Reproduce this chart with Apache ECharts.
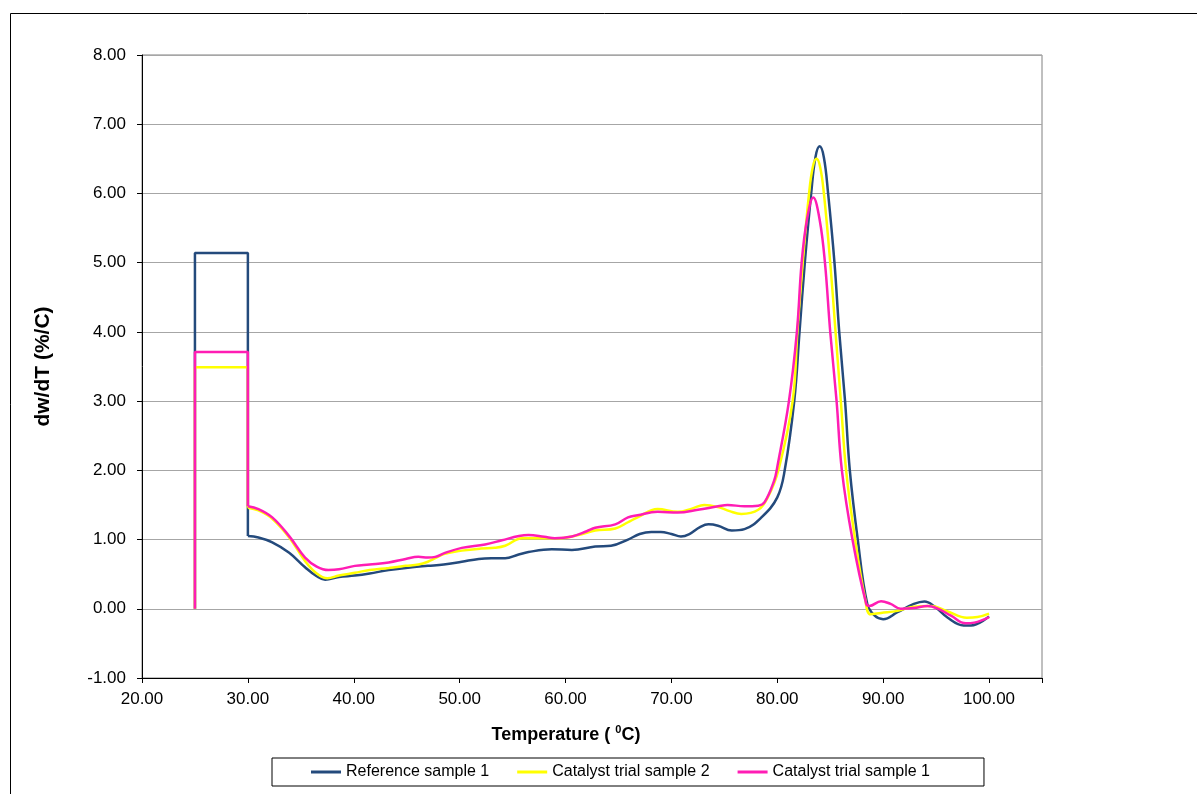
<!DOCTYPE html>
<html>
<head>
<meta charset="utf-8">
<title>dw/dT curves</title>
<script src="https://cdn.jsdelivr.net/npm/echarts@6/dist/echarts.min.js"></script>
<style>
  html, body { margin: 0; padding: 0; background: #ffffff; }
  #chart { width: 1197px; height: 794px; }
</style>
</head>
<body>
<div id="chart"></div>
<script>
// Series names (legend order)
const seriesNames = ['Reference sample 1', 'Catalyst trial sample 2', 'Catalyst trial sample 1'];

// Isothermal hold segment at the start of each run (25–30 °C)
const stepTemps = [25, 25, 30, 30];
const refStep   = [0, 5.14, 5.14, 1.05];
const cat2Step  = [0, 3.49, 3.49, 1.46];
const cat1Step  = [0, 3.71, 3.71, 1.48];

// Reference sample 1: derivative curve from 30 °C
const refTemps = [30.0, 31.0, 32.3, 33.9, 35.4, 36.5, 37.3, 38.6, 40.1, 41.5, 43.3, 45.5, 47.0, 48.5, 50.2, 51.8, 53.0, 54.3, 55.5, 56.5, 58.7, 60.6, 62.8, 64.3, 65.9, 67.0, 68.1, 69.0, 70.0, 70.9, 71.7, 72.7, 73.5, 74.4, 75.7, 76.9, 78.5, 80.0, 80.7, 81.6, 82.1, 82.6, 83.2, 83.6, 84.0, 84.4, 84.8, 85.4, 85.85, 86.4, 86.85, 87.6, 88.5, 89.2, 90.0, 91.35, 92.9, 93.9, 94.8, 96.1, 97.6, 98.3, 100.0];
const refRate  = [1.05, 1.03, 0.96, 0.81, 0.60, 0.47, 0.42, 0.46, 0.48, 0.51, 0.56, 0.60, 0.62, 0.64, 0.68, 0.72, 0.73, 0.73, 0.78, 0.82, 0.86, 0.85, 0.90, 0.91, 1.00, 1.08, 1.11, 1.11, 1.08, 1.045, 1.08, 1.18, 1.22, 1.20, 1.13, 1.15, 1.32, 1.61, 2.00, 3.00, 4.00, 5.00, 6.00, 6.52, 6.68, 6.52, 6.00, 5.00, 4.00, 3.00, 2.00, 1.00, 0.07, -0.10, -0.15, -0.05, 0.07, 0.105, 0.04, -0.13, -0.24, -0.24, -0.11];

// Catalyst trial sample 2
const cat2Temps = [30.0, 31.0, 32.3, 33.9, 35.4, 36.5, 37.5, 38.6, 40.1, 41.5, 43.3, 44.9, 46.1, 47.0, 47.7, 48.5, 50.2, 52.0, 53.3, 54.3, 55.9, 57.4, 59.6, 61.2, 62.8, 64.7, 65.9, 66.8, 68.7, 70.6, 72.0, 73.1, 74.4, 75.5, 76.6, 78.2, 79.1, 80.1, 81.45, 81.9, 82.4, 83.0, 83.35, 83.7, 84.05, 84.4, 85.0, 85.5, 86.0, 86.5, 87.35, 88.3, 88.8, 89.8, 91.35, 92.9, 94.5, 96.1, 97.9, 98.9, 100.0];
const cat2Rate  = [1.46, 1.42, 1.30, 1.03, 0.69, 0.51, 0.44, 0.48, 0.52, 0.56, 0.59, 0.62, 0.64, 0.68, 0.73, 0.79, 0.84, 0.87, 0.88, 0.91, 1.02, 1.02, 1.02, 1.065, 1.13, 1.16, 1.25, 1.32, 1.44, 1.40, 1.45, 1.50, 1.47, 1.41, 1.37, 1.43, 1.61, 2.00, 3.00, 4.00, 5.00, 6.00, 6.38, 6.50, 6.38, 6.00, 5.00, 4.00, 3.00, 2.00, 1.00, 0.14, -0.08, -0.06, -0.03, 0.03, 0.04, -0.04, -0.13, -0.12, -0.07];

// Catalyst trial sample 1
const cat1Temps = [30.0, 31.0, 32.3, 33.9, 35.4, 36.5, 37.6, 38.6, 40.1, 41.5, 43.3, 44.9, 46.1, 47.0, 47.7, 48.5, 50.2, 52.4, 54.0, 55.6, 56.5, 58.0, 59.0, 60.6, 62.0, 62.8, 64.7, 65.9, 66.8, 68.7, 70.6, 72.5, 74.4, 75.3, 76.9, 78.2, 78.8, 79.7, 80.0, 81.1, 81.85, 82.3, 82.8, 83.4, 84.0, 84.5, 85.0, 85.6, 86.1, 87.1, 88.4, 88.7, 89.8, 90.7, 91.65, 92.9, 94.2, 95.1, 96.4, 97.8, 98.6, 100.0];
const cat1Rate  = [1.48, 1.44, 1.32, 1.05, 0.74, 0.61, 0.56, 0.57, 0.62, 0.64, 0.67, 0.72, 0.75, 0.74, 0.75, 0.80, 0.88, 0.93, 0.99, 1.05, 1.065, 1.04, 1.02, 1.045, 1.12, 1.17, 1.22, 1.32, 1.35, 1.40, 1.39, 1.43, 1.48, 1.50, 1.48, 1.49, 1.54, 1.85, 2.05, 3.00, 4.00, 5.00, 5.62, 5.94, 5.62, 5.00, 4.00, 3.00, 2.00, 1.00, 0.07, 0.04, 0.11, 0.07, 0.00, 0.01, 0.04, 0.005, -0.10, -0.21, -0.20, -0.12];

// Axis ticks
const xTicks = { min: 20, max: 105, interval: 10, lastLabel: 100 };
const yTicks = { min: -1, max: 8, interval: 1 };

const colors = ['#244A7C', '#FFFF00', '#FF1DB4'];
const FONT = '"Liberation Sans", Arial, sans-serif';

function pairs(xs, ys) {
  return xs.map((x, i) => [x, ys[i]]);
}

const steps  = [refStep, cat2Step, cat1Step];
const curves = [[refTemps, refRate], [cat2Temps, cat2Rate], [cat1Temps, cat1Rate]];

const series = [];
seriesNames.forEach((name, i) => {
  // hold segment drawn with sharp corners
  series.push({
    name: name,
    type: 'line',
    data: pairs(stepTemps, steps[i]),
    showSymbol: false,
    symbol: 'none',
    lineStyle: { color: colors[i], width: 2.5 },
    itemStyle: { color: colors[i] },
    z: 2 + i
  });
  // ramp segment drawn smoothed
  series.push({
    name: name,
    type: 'line',
    data: pairs(curves[i][0], curves[i][1]),
    smooth: 0.4,
    showSymbol: false,
    symbol: 'none',
    lineStyle: { color: colors[i], width: 2.5 },
    itemStyle: { color: colors[i] },
    z: 2 + i
  });
});

const chart = echarts.init(document.getElementById('chart'), null, { renderer: 'canvas' });
chart.setOption({
  animation: false,
  backgroundColor: '#ffffff',
  graphic: [{
    type: 'rect',
    shape: { x: 10.5, y: 13.5, width: 1200, height: 800 },
    style: { fill: 'none', stroke: '#000000', lineWidth: 1 },
    silent: true,
    z: -1
  }],
  grid: {
    left: 142, top: 55, width: 900, height: 623,
    show: true, borderColor: '#808080', borderWidth: 1,
    backgroundColor: 'transparent'
  },
  legend: {
    left: 272, top: 758,
    itemWidth: 30, itemHeight: 3,
    itemGap: 28,
    padding: [6, 54, 6, 39],
    borderColor: '#000000', borderWidth: 1,
    icon: 'rect',
    textStyle: { fontFamily: FONT, fontSize: 16, color: '#000000' },
    data: seriesNames
  },
  xAxis: {
    type: 'value',
    min: xTicks.min, max: xTicks.max, interval: xTicks.interval,
    name: '{t|Temperature ( }{s|0}{t|C)}',
    nameLocation: 'middle',
    nameGap: 46,
    nameTextStyle: {
      padding: [0, 52, 0, 0],
      rich: {
        t: { fontFamily: FONT, fontSize: 18, fontWeight: 'bold', color: '#000', verticalAlign: 'bottom', lineHeight: 20 },
        s: { fontFamily: FONT, fontSize: 11, fontWeight: 'bold', color: '#000', verticalAlign: 'top', lineHeight: 20, padding: [0, 0, 8, 0] }
      }
    },
    axisLine: { show: true, onZero: false, lineStyle: { color: '#000000', width: 1 } },
    axisTick: { show: true, inside: false, length: 5, lineStyle: { color: '#000000' } },
    axisLabel: {
      margin: 13,
      fontFamily: FONT, fontSize: 17, color: '#000000',
      formatter: v => (v > xTicks.lastLabel ? '' : v.toFixed(2))
    },
    splitLine: { show: false }
  },
  yAxis: {
    type: 'value',
    min: yTicks.min, max: yTicks.max, interval: yTicks.interval,
    name: 'dw/dT (%/C)',
    nameLocation: 'middle',
    nameGap: 88,
    nameRotate: 90,
    nameTextStyle: { fontFamily: FONT, fontSize: 21, fontWeight: 'bold', color: '#000000' },
    axisLine: { show: true, onZero: false, lineStyle: { color: '#000000', width: 1 } },
    axisTick: { show: true, inside: false, length: 5, lineStyle: { color: '#000000' } },
    axisLabel: {
      margin: 16,
      fontFamily: FONT, fontSize: 17, color: '#000000',
      formatter: v => v.toFixed(2)
    },
    splitLine: { show: true, lineStyle: { color: '#A6A6A6', width: 1 } }
  },
  series: series
});
</script>
</body>
</html>
